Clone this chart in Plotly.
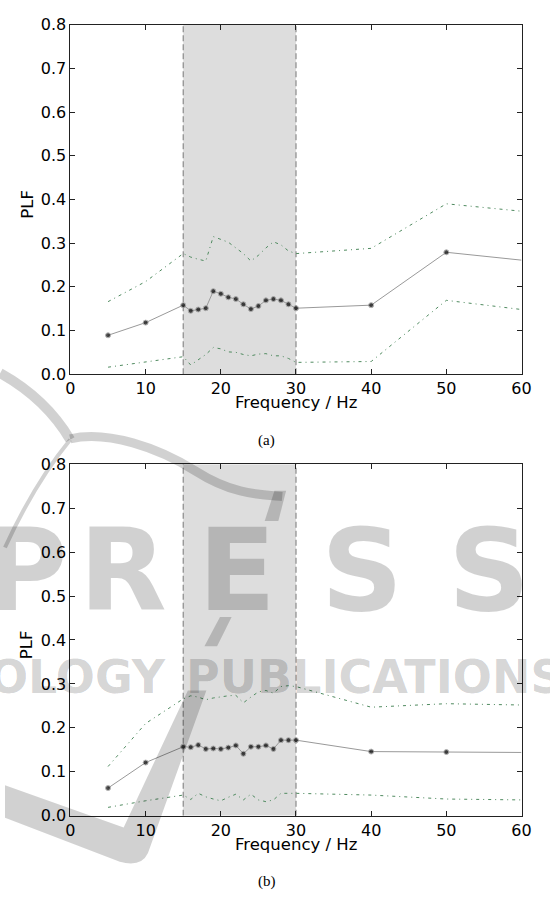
import plotly.graph_objects as go

# ---------------- data ----------------
freq = [5, 10, 15, 16, 17, 18, 19, 20, 21, 22, 23, 24, 25, 26, 27, 28, 29, 30, 40, 50, 60]

mean_a = [0.089, 0.118, 0.158, 0.145, 0.148, 0.151, 0.190, 0.184, 0.176, 0.172, 0.160,
          0.149, 0.156, 0.169, 0.172, 0.169, 0.160, 0.151, 0.158, 0.279, 0.261]
upper_a = [0.166, 0.212, 0.276, 0.268, 0.263, 0.259, 0.315, 0.309, 0.302, 0.289, 0.276,
           0.259, 0.272, 0.289, 0.303, 0.296, 0.282, 0.276, 0.288, 0.390, 0.373]
lower_a = [0.016, 0.028, 0.040, 0.021, 0.032, 0.045, 0.061, 0.058, 0.051, 0.050, 0.045,
           0.042, 0.046, 0.047, 0.042, 0.042, 0.036, 0.027, 0.029, 0.169, 0.148]

mean_b = [0.063, 0.121, 0.157, 0.156, 0.161, 0.152, 0.153, 0.152, 0.155, 0.160, 0.141,
          0.157, 0.157, 0.160, 0.152, 0.172, 0.172, 0.172, 0.146, 0.145, 0.144]
upper_b = [0.112, 0.210, 0.266, 0.273, 0.270, 0.264, 0.268, 0.271, 0.273, 0.274, 0.257,
           0.270, 0.282, 0.285, 0.279, 0.294, 0.296, 0.294, 0.247, 0.255, 0.252]
lower_b = [0.019, 0.034, 0.047, 0.037, 0.051, 0.043, 0.038, 0.034, 0.042, 0.049, 0.036,
           0.049, 0.036, 0.032, 0.036, 0.051, 0.051, 0.051, 0.047, 0.038, 0.036]

x_ticks = [0, 10, 20, 30, 40, 50, 60]
y_ticks = [0.0, 0.1, 0.2, 0.3, 0.4, 0.5, 0.6, 0.7, 0.8]
band_range = [15, 30]
x_title = "Frequency / Hz"
y_title = "PLF"
captions = ["(a)", "(b)"]

# ---------------- layout helpers ----------------
W, H = 550, 906


def px(x):
    return x / W


def py(y):
    return 1 - y / H


FONT = "DejaVu Sans"
BOUND_COLOR = "#4f8a5f"
MEAN_LINE = "#999999"

fig = go.Figure()

panels = [
    (mean_a, upper_a, lower_a, "x", "y"),
    (mean_b, upper_b, lower_b, "x2", "y2"),
]
marker_sizes = [5] * (len(freq) - 1) + [0]

for mean, up, lo, xa, ya in panels:
    for series in (up, lo):
        fig.add_trace(go.Scatter(
            x=freq, y=series, mode="lines", xaxis=xa, yaxis=ya,
            line=dict(color=BOUND_COLOR, width=1, dash="3px,4px,1px,4px"),
            showlegend=False, hoverinfo="skip"))
    fig.add_trace(go.Scatter(
        x=freq, y=mean, mode="lines+markers", xaxis=xa, yaxis=ya,
        line=dict(color=MEAN_LINE, width=1),
        marker=dict(color="black", size=marker_sizes),
        showlegend=False, cliponaxis=True))

axis_common = dict(
    showgrid=False, zeroline=False, showline=True, linecolor="#222222", linewidth=1,
    mirror="ticks", ticks="inside", ticklen=5, tickwidth=1, tickcolor="#222222",
    tickfont=dict(family=FONT, size=16, color="black"),
)

xdom = [px(67.3), px(531)]
fig.update_layout(
    width=W, height=H, autosize=False,
    margin=dict(l=0, r=0, t=0, b=0),
    paper_bgcolor="white", plot_bgcolor="white",
    xaxis=dict(domain=xdom, range=[0, 60], tickvals=x_ticks, anchor="y", **axis_common),
    yaxis=dict(domain=[py(373), py(16)], range=[0, 0.8], tickvals=y_ticks,
               tickformat=".1f", anchor="x", **axis_common),
    xaxis2=dict(domain=xdom, range=[0, 60], tickvals=x_ticks, anchor="y2", **axis_common),
    yaxis2=dict(domain=[py(824), py(465)], range=[0, 0.8], tickvals=y_ticks,
                tickformat=".1f", anchor="x2", **axis_common),
)

shapes = []
for xa, ya in (("x", "y"), ("x2", "y2")):
    shapes.append(dict(type="rect", xref=xa, yref=ya, x0=band_range[0], x1=band_range[1],
                       y0=0, y1=0.8, fillcolor="#dddddd", line=dict(width=0), layer="below"))
    for xv in band_range:
        shapes.append(dict(type="line", xref=xa, yref=ya, x0=xv, x1=xv, y0=0, y1=0.8,
                           line=dict(color="#8a8a8a", width=1.2, dash="6px,3px"), layer="below"))

# ---- watermark (publisher logo, drawn faintly over the figure) ----
WM = "rgba(0,0,0,0.18)"


def pt(p):
    return f"{px(p[0]):.5f},{py(p[1]):.5f}"


def path_from(segments, close=True):
    parts = []
    for cmd, pts in segments:
        if cmd in ("M", "L"):
            for p in pts:
                parts.append(f"{cmd}{pt(p)}")
        else:
            parts.append(cmd + " ".join(pt(p) for p in pts))
    s = " ".join(parts)
    return s + (" Z" if close else "")


polys = [
    [("M", [(267, 523)]), ("L", [(281, 523), (289, 492), (277, 492)])],
    [("M", [(205, 651)]), ("L", [(218, 651), (233, 621), (221, 621)])],
    [("M", [(0, 793)]), ("L", [(122, 836), (188, 696), (207, 696), (147, 862)]),
     ("Q", [(140, 877), (118, 871)]), ("L", [(0, 826)])],
]
for p in polys:
    shapes.append(dict(type="path", xref="paper", yref="paper", path=path_from(p),
                       fillcolor=WM, line=dict(width=0), layer="above"))

arcs = [
    ([("M", [(-5, 372)]), ("Q", [(42, 398), (67, 440)])], 10),
    ([("M", [(67, 439)]), ("C", [(105, 430), (158, 448), (196, 472)]),
      ("S", [(262, 496), (285, 498)])], 9),
    ([("M", [(67, 440)]), ("Q", [(30, 485), (0, 550)])], 4),
]
for p, w in arcs:
    shapes.append(dict(type="path", xref="paper", yref="paper", path=path_from(p, close=False),
                       line=dict(color=WM, width=w), layer="above"))

fig.update_layout(shapes=shapes)

annotations = []
# axis titles and captions
for top, bottom in ((16, 373), (465, 824)):
    annotations.append(dict(text=x_title, xref="paper", yref="paper", x=px(299), y=py(bottom + 29),
                            xanchor="center", yanchor="middle", showarrow=False,
                            font=dict(family=FONT, size=16.5, color="black")))
    annotations.append(dict(text=y_title, xref="paper", yref="paper", x=px(23),
                            y=py((top + bottom) / 2 + 5), textangle=-90,
                            xanchor="center", yanchor="middle", showarrow=False,
                            font=dict(family=FONT, size=16.5, color="black")))
for cap, cy in zip(captions, (441, 891)):
    annotations.append(dict(text=cap, xref="paper", yref="paper", x=px(269), y=py(cy),
                            xanchor="center", yanchor="middle", showarrow=False,
                            font=dict(family="Liberation Serif", size=15, color="black")))

# watermark letters
for ch, cx in zip("PRESS", (22, 121, 239, 367, 498)):
    annotations.append(dict(text=f"<b>{ch}</b>", xref="paper", yref="paper", x=px(cx), y=py(574),
                            xanchor="center", yanchor="middle", showarrow=False,
                            font=dict(family=FONT, size=114, color=WM)))
annotations.append(dict(text="<b>OLOGY</b>", xref="paper", yref="paper",
                        x=px(168), y=py(682), xanchor="right", yanchor="middle", showarrow=False,
                        font=dict(family=FONT, size=46, color=WM)))
annotations.append(dict(text="<b>PUBLICATIONS</b>", xref="paper", yref="paper",
                        x=px(184), y=py(682), xanchor="left", yanchor="middle", showarrow=False,
                        font=dict(family=FONT, size=46, color=WM)))

fig.update_layout(annotations=annotations)

fig.write_html("out.html")
